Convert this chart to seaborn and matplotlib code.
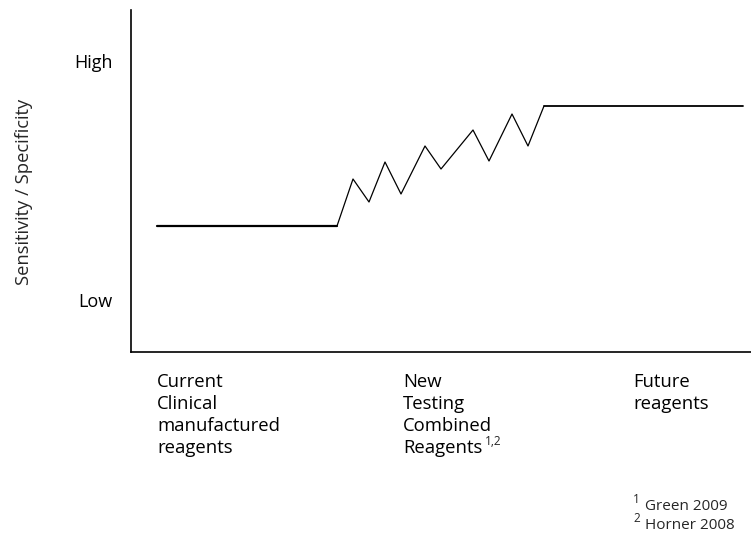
import matplotlib
matplotlib.use("Agg")
import matplotlib.pyplot as plt
import seaborn as sns
import pandas as pd

# Data (x: horizontal position units, y: sensitivity/specificity level units)
current_x = [26, 206]
current_y = [126, 126]
testing_x = [206, 222, 238, 254, 270, 294, 310, 342, 358, 381, 397, 413]
testing_y = [126, 173, 150, 190, 158, 206, 183, 222, 191, 238, 206, 246]
future_x = [413, 612]
future_y = [246, 246]

y_ticks = [52, 291]
y_tick_labels = ["Low", "High"]
x_ticks = [26, 272, 502]
x_tick_labels = ["Current\nClinical\nmanufactured\nreagents",
                 "New\nTesting\nCombined\nReagents",
                 "Future\nreagents"]
reagent_refs = "1,2"
footnote_marks = ["1", "2"]
footnote_texts = ["Green 2009", "Horner 2008"]

sns.set_theme(style="white")
plt.rcParams["font.family"] = ["Open Sans", "DejaVu Sans"]

W, H = 751, 535
XFS = 13.3
fig = plt.figure(figsize=(W / 100, H / 100), dpi=100)
ax = fig.add_axes([131 / W, 1 - 352 / H, 624 / W, 342 / H])

df_c = pd.DataFrame({"x": current_x, "y": current_y})
df_t = pd.DataFrame({"x": testing_x, "y": testing_y})
df_f = pd.DataFrame({"x": future_x, "y": future_y})
sns.lineplot(data=df_c, x="x", y="y", ax=ax, color="black", linewidth=1.6, sort=False)
sns.lineplot(data=df_t, x="x", y="y", ax=ax, color="black", linewidth=0.9, sort=False)
sns.lineplot(data=df_f, x="x", y="y", ax=ax, color="black", linewidth=1.3, sort=False)

ax.set_xlim(0, 624)
ax.set_ylim(0, 342)
for s in ["top", "right"]:
    ax.spines[s].set_visible(False)
for s in ["left", "bottom"]:
    ax.spines[s].set_color("black")
    ax.spines[s].set_linewidth(1.2)

ax.set_yticks(y_ticks)
ax.set_yticklabels(y_tick_labels, fontsize=13)
ax.set_xticks(x_ticks)
ax.set_xticklabels(x_tick_labels, fontsize=XFS, ha="left", va="top", linespacing=1.3)
ax.tick_params(axis="both", length=0, colors="black")
ax.tick_params(axis="y", pad=13)
ax.tick_params(axis="x", pad=15)
ax.set_xlabel("")
ax.set_ylabel("Sensitivity / Specificity", fontsize=13.2)
ax.yaxis.set_label_coords((33 - 131) / 624, (352 - 192) / 342)


def px_text(x, y, s, size, **kw):
    fig.text(x / W, 1 - y / H, s, fontsize=size, ha="left", va="baseline", **kw)


# superscript after "Reagents" in the middle tick label
fig.canvas.draw()
renderer = fig.canvas.get_renderer()
lab = ax.get_xticklabels()[1]
bb = lab.get_window_extent(renderer)
tmp = fig.text(0, 0, "Reagents", fontsize=XFS)
tb = tmp.get_window_extent(renderer)
tmp.remove()
sx = bb.x0 + tb.width + 3
sy_top = bb.y0 + tb.height + 4
fig.text(sx / W, sy_top / H, reagent_refs, fontsize=8.5, ha="left", va="top")

px_text(633, 503, footnote_marks[0], 8.5)
px_text(645, 510, footnote_texts[0], 11)
px_text(633, 522, footnote_marks[1], 8.5)
px_text(645, 529, footnote_texts[1], 11)

fig.savefig("out.png", dpi=100, facecolor="white")
